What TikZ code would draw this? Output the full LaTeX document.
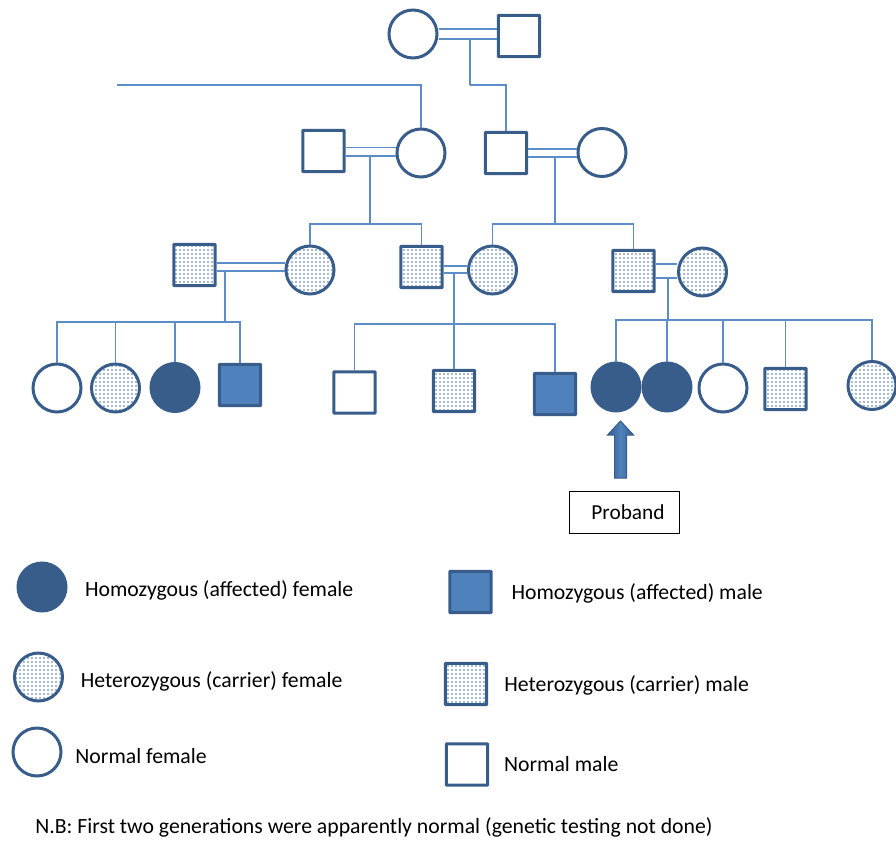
\documentclass[tikz,border=0pt]{standalone}
\usepackage{fontspec}
\setmainfont{Carlito}
\usetikzlibrary{calc,positioning,patterns}
\definecolor{PedDark}{RGB}{56,93,138}
\definecolor{PedMid}{RGB}{79,129,189}
\definecolor{PedLine}{RGB}{93,141,201}
\pgfdeclarepatternformonly{peddots}{\pgfqpoint{-1pt}{-1pt}}{\pgfqpoint{1pt}{1pt}}{\pgfqpoint{3pt}{3pt}}%
  {\pgfpathcircle{\pgfqpoint{0pt}{0pt}}{0.6pt}\pgfusepath{fill}}

\begin{document}
\begin{tikzpicture}[x=0.75pt,y=-0.75pt,node distance=12pt]
  \tikzset{
    fem/.style={circle,draw=PedDark,line width=2.25pt,minimum size=36pt,inner sep=0pt},
    mal/.style={rectangle,draw=PedDark,line width=2.25pt,minimum size=31pt,inner sep=0pt,rounded corners=0.5pt},
    afff/.style={fill=PedDark},
    affm/.style={fill=PedMid},
    carrier/.style={pattern=peddots,pattern color=PedMid!90!black},
    link/.style={draw=PedLine,line width=1.1pt},
    legtext/.style={font=\fontsize{16.3}{19}\selectfont,inner sep=0pt},
    probox/.style={draw=black,line width=0.75pt,minimum width=82.5pt,minimum height=31.5pt,font=\fontsize{16}{19}\selectfont}
  }
  \useasboundingbox (0,0) rectangle (896,846);
  % generation I
  \node[fem] (g1f) at (413,34) {};
  \node[mal] (g1m) at (519,36) {};
  \draw[link] (g1f.east |- 0,29) -- (g1m.west |- 0,29);
  \draw[link] (g1f.east |- 0,39) -- (g1m.west |- 0,39);
  \coordinate (d1) at (470,39);
  \coordinate (s1) at (470,85);
  \coordinate (s1x) at (117,85);
  % generation II
  \node[mal] (g2a) at (323.5,151) {};
  \node[fem] (g2b) at (421,153) {};
  \node[mal] (g2c) at (506,153) {};
  \node[fem] (g2d) at (602,152.5) {};
  \draw[link] (d1) -- (s1);
  \draw[link] (s1x) -| (g2b.north);
  \draw[link] (s1) -| (g2c.north);
  \draw[link] (g2a.east |- 0,147.5) -- (g2b.west |- 0,147.5);
  \draw[link] (g2a.east |- 0,156) -- (g2b.west |- 0,156);
  \draw[link] (g2c.east |- 0,149) -- (g2d.west |- 0,149);
  \draw[link] (g2c.east |- 0,157) -- (g2d.west |- 0,157);
  \coordinate (d2) at (370,156);
  \coordinate (s2) at (370,224);
  \coordinate (d3) at (555,157);
  \coordinate (s3) at (555,224);
  % generation III
  \node[mal,carrier] (g3e) at (194.5,265) {};
  \node[fem,carrier] (g3f) at (310,270) {};
  \node[mal,carrier] (g3g) at (421.5,267) {};
  \node[fem,carrier] (g3h) at (492.5,270) {};
  \node[mal,carrier] (g3i) at (633.5,271) {};
  \node[fem,carrier] (g3j) at (702.5,272) {};
  \draw[link] (d2) -- (s2);
  \draw[link] (s2) -| (g3f.north);
  \draw[link] (s2) -| (g3g.north);
  \draw[link] (d3) -- (s3);
  \draw[link] (s3) -| (g3h.north);
  \draw[link] (s3) -| (g3i.north);
  \draw[link] (g3e.east |- 0,263) -- (g3f.west |- 0,263);
  \draw[link] (g3e.east |- 0,271) -- (g3f.west |- 0,271);
  \draw[link] (g3g.east |- 0,266) -- (g3h.west |- 0,266);
  \draw[link] (g3g.east |- 0,273) -- (g3h.west |- 0,273);
  \draw[link] (g3i.east |- 0,264) -- (g3j.west |- 0,264);
  \draw[link] (g3i.east |- 0,278) -- (g3j.west |- 0,278);
  \coordinate (d4) at (225,271);
  \coordinate (s4) at (225,322);
  \coordinate (d5) at (454,273);
  \coordinate (s5) at (454,324);
  \coordinate (d6) at (668,278);
  \coordinate (s6) at (668,320);
  % generation IV
  \node[fem] (g4a) at (57,388) {};
  \node[fem,carrier] (g4b) at (115.5,388) {};
  \node[fem,afff] (g4c) at (175,387.5) {};
  \node[mal,affm] (g4d) at (240,385) {};
  \node[mal] (g4e) at (354.5,392.5) {};
  \node[mal,carrier] (g4f) at (454,391) {};
  \node[mal,affm] (g4g) at (555,394) {};
  \node[fem,afff] (g4p) at (616,387) {};
  \node[fem,afff] (g4h) at (667,387) {};
  \node[fem] (g4i) at (723,388) {};
  \node[mal,carrier] (g4j) at (785.5,389) {};
  \node[fem,carrier] (g4k) at (872,385.5) {};
  \draw[link] (d4) -- (s4);
  \draw[link] (s4) -| (g4a.north);
  \draw[link] (s4) -| (g4b.north);
  \draw[link] (s4) -| (g4c.north);
  \draw[link] (s4) -| (g4d.north);
  \draw[link] (d5) -- (s5);
  \draw[link] (s5) -| (g4e.north);
  \draw[link] (s5) -- (g4f.north);
  \draw[link] (s5) -| (g4g.north);
  \draw[link] (d6) -- (s6);
  \draw[link] (s6) -| (g4p.north);
  \draw[link] (s6) -| (g4h.north);
  \draw[link] (s6) -| (g4i.north);
  \draw[link] (s6) -| (g4j.north);
  \draw[link] (s6) -| (g4k.north);
  % proband
  \draw[draw=PedDark,line width=0.75pt,left color=PedDark,right color=PedDark,middle color=PedMid]
    (614.5,478) -- (614.5,435) -- (607.5,435) -- (620.5,421) -- (633.5,435) -- (626.5,435) -- (626.5,478) -- cycle;
  \node[probox] (pbox) at (624,512) {\hspace{6pt}Proband};
  % legend
  \node[fem,afff] (lgfa) at (42,587) {};
  \node[legtext,right=13pt of lgfa,yshift=-2.5pt] (lgfatext) {Homozygous (affected) female};
  \node[fem,carrier] (lgfc) at (38.5,677) {};
  \node[legtext,right=12.5pt of lgfc,yshift=-3pt] (lgfctext) {Heterozygous (carrier) female};
  \node[fem] (lgfn) at (37,752) {};
  \node[legtext,right=9.5pt of lgfn,yshift=-3pt] (lgfntext) {Normal female};
  \node[mal,affm] (lgma) at (470.5,592) {};
  \node[legtext,right=14pt of lgma,yshift=-1pt] (lgmatext) {Homozygous (affected) male};
  \node[mal,carrier] (lgmc) at (466,684) {};
  \node[legtext,right=12pt of lgmc,yshift=-1pt] (lgmctext) {Heterozygous (carrier) male};
  \node[mal] (lgmn) at (467,764.5) {};
  \node[legtext,right=11pt of lgmn] (lgmntext) {Normal male};
  \node[legtext,anchor=west] (nb) at (35,827) {N.B: First two generations were apparently normal (genetic testing not done)};
\end{tikzpicture}
\end{document}
